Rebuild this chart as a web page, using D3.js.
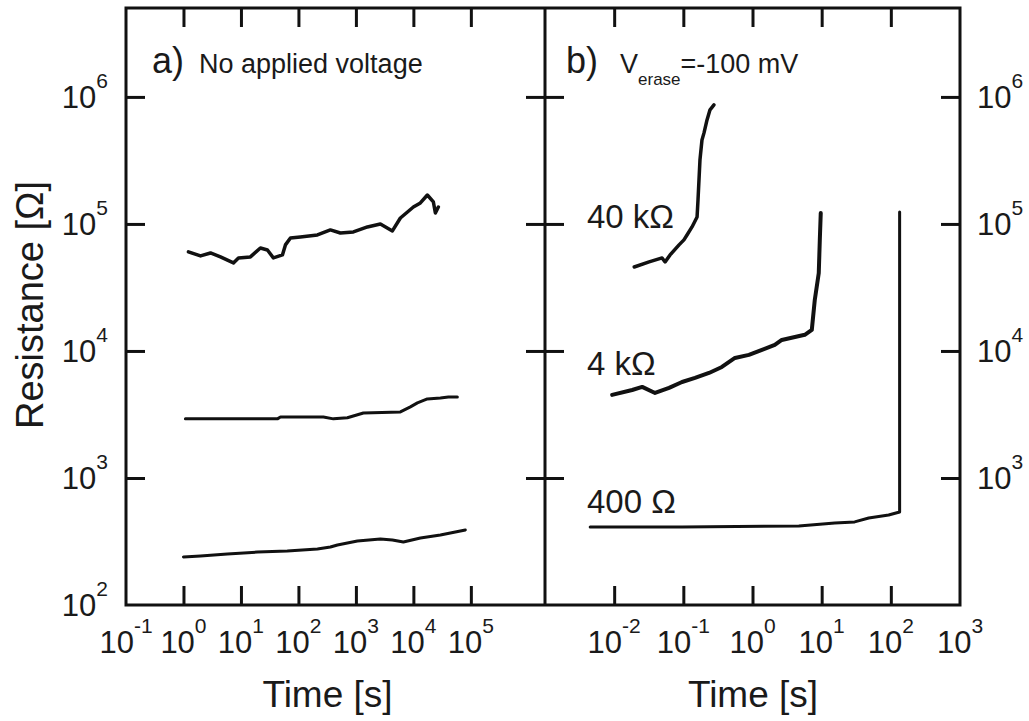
<!DOCTYPE html>
<html>
<head>
<meta charset="utf-8">
<script src="https://cdn.jsdelivr.net/npm/d3@7"></script>
<style>
  body { margin: 0; background: #fff; }
  svg { display: block; }
  text { font-family: "Liberation Sans", Arial, Helvetica, sans-serif; fill: #1a1a1a; }
  .axis path { display: none; }
  .axis line { stroke: #111; stroke-width: 3; }
  .curve { fill: none; stroke: #111; stroke-linejoin: round; stroke-linecap: round; }
</style>
</head>
<body>
<svg id="chart" width="1029" height="721"></svg>
<script>
// panel a: no applied voltage (time in s, resistance in ohm)
const a1Time = [1.22, 1.98, 2.95, 4.4, 7.4, 9.05, 14.6, 21.8, 28.9, 36.7, 52.7, 59.4, 72.6, 108, 214, 360, 537, 905, 1585, 2667, 4315, 5940, 10000, 13240, 17500, 22280, 24150, 27200]
const a1Res  = [60300, 56000, 59100, 55000, 49300, 54000, 55000, 64700, 62400, 54000, 57000, 68400, 77600, 79000, 81900, 89700, 84900, 86500, 94700, 100000, 88100, 111400, 136000, 146400, 169000, 148900, 122000, 136000]

const a2Time = [1.08, 43, 48.7, 272, 406, 711, 1350, 5940, 8870, 11750, 17500, 29500, 40600, 58200]
const a2Res  = [2920, 2920, 3020, 3020, 2920, 2980, 3250, 3310, 3630, 3900, 4190, 4270, 4340, 4340]

const a3Time = [1.0, 1.98, 5.8, 19.4, 64, 214, 360, 477, 1062, 2667, 4315, 6700, 13240, 29500, 80200]
const a3Res  = [239, 243, 252, 261, 266, 276, 286, 297, 319, 331, 325, 313, 337, 356, 390]

// panel b: V_erase = -100 mV
const b1Time = [0.0195, 0.032, 0.0493, 0.0545, 0.0643, 0.0867, 0.102, 0.113, 0.1335, 0.158, 0.163, 0.174, 0.186, 0.199, 0.22, 0.243, 0.277]
const b1Res  = [45800, 50200, 54000, 50200, 57000, 68400, 74900, 81900, 94700, 113500, 154600, 319000, 458000, 521000, 659000, 791000, 865000]

const b2Time = [0.00935, 0.0182, 0.0254, 0.039, 0.0622, 0.0958, 0.1475, 0.235, 0.361, 0.557, 0.887, 1.37, 2.1, 2.65, 5.7, 7.2, 7.95, 9.08, 9.4, 9.7]
const b2Res  = [4510, 4930, 5210, 4670, 5120, 5700, 6130, 6710, 7480, 8810, 9310, 10200, 11150, 12200, 13400, 14640, 25200, 41100, 74800, 122000]

const b3Time = [0.0045, 0.013, 0.0958, 4.68, 15.5, 30, 47.9, 93, 134, 134]
const b3Res  = [411, 411, 411, 419, 442, 451, 484, 511, 540, 124000]

const yTicks  = [1e3, 1e4, 1e5, 1e6]
const yLabels = [2, 3, 4, 5, 6]
const aTicks  = [1, 10, 100, 1e3, 1e4, 1e5]
const aLabels = [-1, 0, 1, 2, 3, 4, 5]
const bTicks  = [1e-2, 1e-1, 1, 10, 100]
const bLabels = [-2, -1, 0, 1, 2, 3]
const curveLabels = [['40 kΩ', 228], ['4 kΩ', 375], ['400 Ω', 513]]

const svg = d3.select('#chart')

const plotLeft = 126, plotMid = 545, plotRight = 960, plotTop = 8, plotBottom = 605
const tick = 19

const y = d3.scaleLog().domain([1e2, Math.pow(10, 6.7)]).range([plotBottom, plotTop])
const xA = d3.scaleLog().domain([0.1, Math.pow(10, 6.29)]).range([plotLeft, plotMid])
const xB = d3.scaleLog().domain([1e-3, 1e3]).range([plotMid, plotRight])

const zip = (ts, rs) => ts.map((t, i) => [t, rs[i]])

// curves
const drawCurve = (x, ts, rs, w) => {
	const line = d3.line()
		.x((d) => x(d[0]))
		.y((d) => y(d[1]))
	svg.append('path')
		.attr('class', 'curve')
		.attr('stroke-width', w)
		.attr('d', line(zip(ts, rs)))
}

drawCurve(xA, a1Time, a1Res, 3.5)
drawCurve(xA, a2Time, a2Res, 3)
drawCurve(xA, a3Time, a3Res, 3)
drawCurve(xB, b1Time, b1Res, 3.5)
drawCurve(xB, b2Time, b2Res, 4)
drawCurve(xB, b3Time, b3Res, 3)

// ticks (inward)
const axis = (gen, tx, ty) => svg.append('g')
	.attr('class', 'axis')
	.attr('transform', `translate(${tx},${ty})`)
	.call(gen.tickFormat(''))

axis(d3.axisBottom(xA).tickValues(aTicks).tickSize(-tick), 0, plotBottom)
axis(d3.axisTop(xA).tickValues(aTicks).tickSize(-tick), 0, plotTop)
axis(d3.axisBottom(xB).tickValues(bTicks).tickSize(-tick), 0, plotBottom)
axis(d3.axisTop(xB).tickValues(bTicks).tickSize(-tick), 0, plotTop)
axis(d3.axisLeft(y).tickValues(yTicks).tickSize(-tick), plotLeft, 0)
axis(d3.axisLeft(y).tickValues(yTicks).tickSize(tick), plotMid, 0)
axis(d3.axisRight(y).tickValues(yTicks).tickSize(tick), plotMid, 0)
axis(d3.axisRight(y).tickValues(yTicks).tickSize(-tick), plotRight, 0)

// frame
svg.append('rect')
	.attr('x', plotLeft).attr('y', plotTop)
	.attr('width', plotRight - plotLeft).attr('height', plotBottom - plotTop)
	.attr('fill', 'none').attr('stroke', '#111').attr('stroke-width', 3)
svg.append('line')
	.attr('x1', plotMid).attr('x2', plotMid).attr('y1', plotTop).attr('y2', plotBottom)
	.attr('stroke', '#111').attr('stroke-width', 3)

// power-of-ten labels
const power = (g, p) => {
	g.append('tspan').text('10')
	g.append('tspan').attr('font-size', 21).attr('dy', -20).text(p)
}

const xLabels = (x, exps) => {
	exps.forEach((p) => {
		const t = svg.append('text')
			.attr('x', x(Math.pow(10, p)))
			.attr('y', 653)
			.attr('text-anchor', 'middle')
			.attr('font-size', 31)
		power(t, p)
	})
}
xLabels(xA, aLabels)
xLabels(xB, bLabels)

yLabels.forEach((p) => {
	const l = svg.append('text')
		.attr('x', 108).attr('y', y(Math.pow(10, p)) + 11)
		.attr('text-anchor', 'end')
		.attr('font-size', 31)
	power(l, p)
	if (p > 2) {
		const r = svg.append('text')
			.attr('x', 977).attr('y', y(Math.pow(10, p)) + 11)
			.attr('font-size', 31)
		power(r, p)
	}
})

// axis titles
svg.append('text')
	.attr('transform', 'translate(43,305) rotate(-90)')
	.attr('text-anchor', 'middle')
	.attr('font-size', 38)
	.text('Resistance [Ω]')

svg.selectAll('.xtitle')
	.data([(plotLeft + plotMid) / 2 - 8, 753])
	.enter()
		.append('text')
		.attr('class', 'xtitle')
		.attr('x', (d) => d)
		.attr('y', 707)
		.attr('text-anchor', 'middle')
		.attr('font-size', 37)
		.text('Time [s]')

// panel captions
svg.append('text').attr('x', 152).attr('y', 73).attr('font-size', 36).text('a)')
svg.append('text').attr('x', 199).attr('y', 73).attr('font-size', 27).text('No applied voltage')

svg.append('text').attr('x', 566).attr('y', 73).attr('font-size', 36).text('b)')
const vt = svg.append('text').attr('x', 620).attr('y', 73).attr('font-size', 27)
vt.append('tspan').text('V')
vt.append('tspan').attr('font-size', 17).attr('dy', 12).text('erase')
vt.append('tspan').attr('dy', -12).text('=-100 mV')

svg.selectAll('.clabel')
	.data(curveLabels)
	.enter()
		.append('text')
		.attr('class', 'clabel')
		.attr('x', 587)
		.attr('y', (d) => d[1])
		.attr('font-size', 33)
		.text((d) => d[0])
</script>
</body>
</html>
